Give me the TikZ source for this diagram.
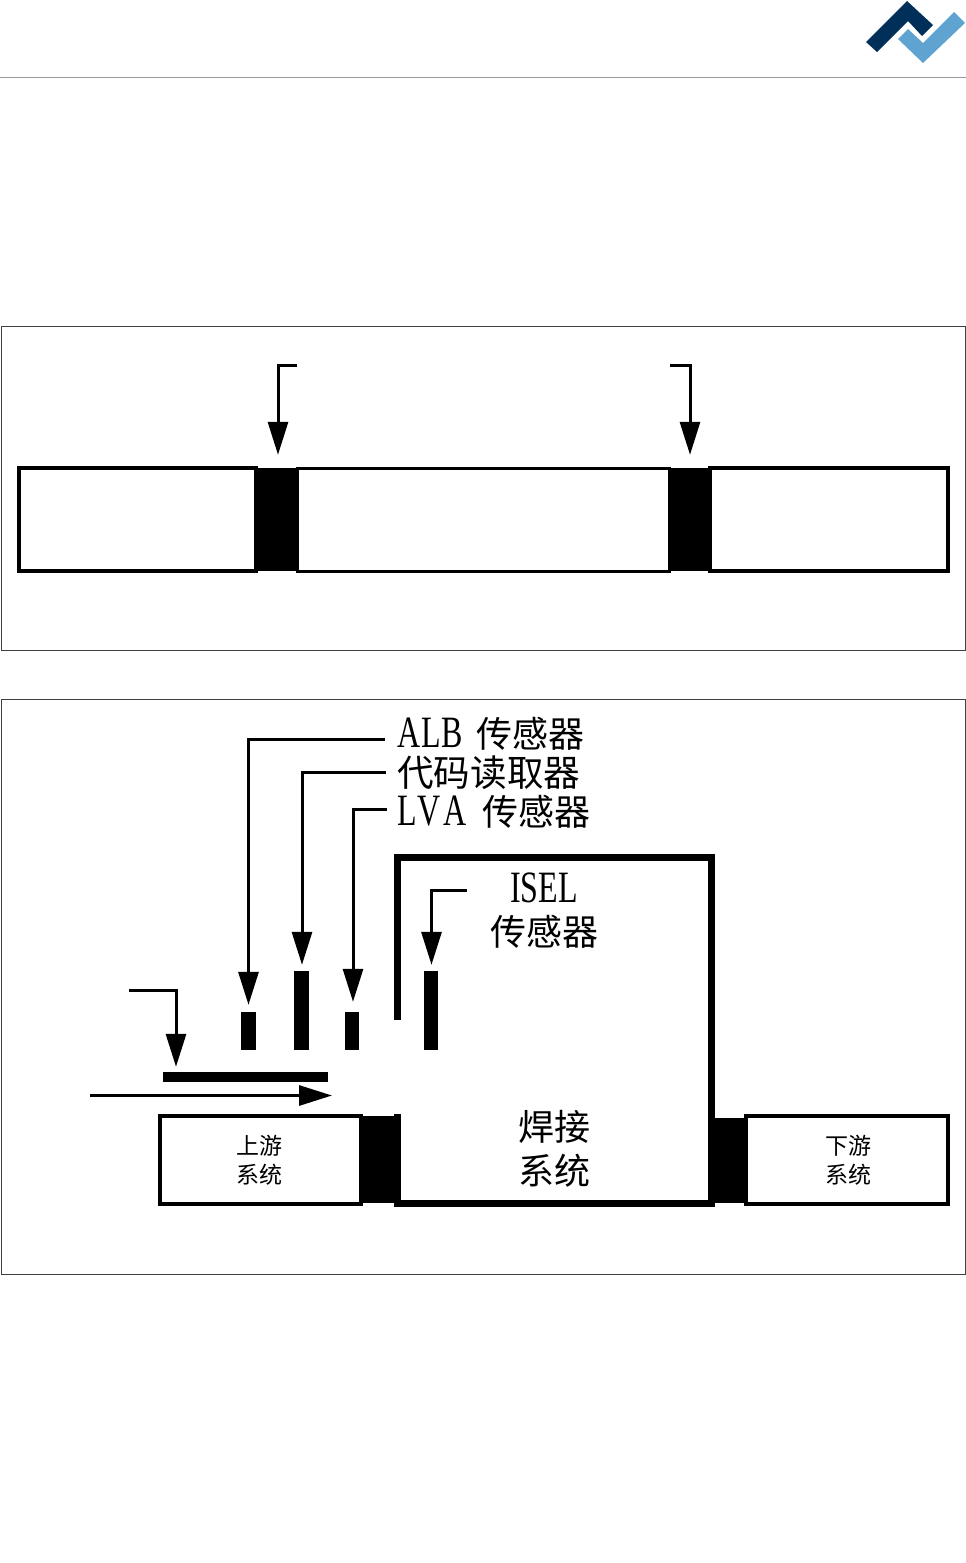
\documentclass[tikz,border=0pt]{standalone}
\usepackage{fontspec}
\usepackage{graphicx}
\setmainfont{Liberation Serif}
\newfontfamily\cjk{Noto Sans CJK SC}
\usetikzlibrary{arrows.meta}
\newcommand{\tallword}[1]{\scalebox{1}[1.4]{\rmfamily\fontsize{32}{32}\selectfont #1}}
\begin{document}
\begin{tikzpicture}[x=1pt,y=-1pt,framebox/.style={draw=black!75,line width=0.8pt},rulerline/.style={draw=black!40,line width=0.8pt},pointer/.style={draw=black,line width=3pt,-{Triangle[length=33pt,width=20pt]}},stripbox/.style={draw=black,line width=4pt,fill=white,inner sep=0pt},gapblock/.style={fill=black,inner sep=0pt},sensorbar/.style={fill=black,inner sep=0pt,minimum width=15pt},bigtext/.style={font=\cjk\fontsize{36}{36}\selectfont,inner sep=0pt},smalltext/.style={font=\cjk\fontsize{23}{23}\selectfont,inner sep=0pt}]
\useasboundingbox (0,0) rectangle (966,1563);
\fill[white] (0,0) rectangle (966,1563);
\draw[rulerline] (0,77) -- (966,77); \draw[rulerline] (0,1563) -- (966,1563);
\fill[fill={rgb,255:red,0;green,47;blue,90}] (866,42) -- (907,1) -- (933,25) -- (922,36) -- (908,21) -- (877,52) -- cycle;
\fill[fill={rgb,255:red,95;green,164;blue,208}] (898,39) -- (908,29) -- (923,43) -- (954,12) -- (965,23) -- (923,63) -- cycle;
\draw[framebox] (1,326) rectangle (965,650);
\draw[framebox] (1,699) rectangle (965,1274);
\begin{scope}
\node[stripbox,minimum width=237pt,minimum height=103pt] (leftstrip) at (137.5,519.5) {};
\node[stripbox,minimum width=238pt,minimum height=103pt] (rightstrip) at (829,519.5) {};
\node[stripbox,line width=3pt,minimum width=372pt,minimum height=103pt] (midstrip) at (483,519.5) {};
\node[gapblock,minimum width=41pt,minimum height=103pt] (leftgap) at (277,519.5) {};
\node[gapblock,minimum width=41pt,minimum height=103pt] (rightgap) at (690,519.5) {};
\coordinate (leftstart) at (297,365.5); \coordinate (rightstart) at (670,365.5);
\draw[pointer] (leftstart) -| ([xshift=1pt,yshift=13pt]leftgap.north);
\draw[pointer] (rightstart) -| ([yshift=13pt]rightgap.north);
\end{scope}
\begin{scope}
\node[sensorbar,minimum height=38pt] (albsensor) at (248.5,1031) {};
\node[sensorbar,minimum height=79pt] (codesensor) at (301.5,1010.5) {};
\node[sensorbar,minimum height=38pt,minimum width=14pt] (lvasensor) at (352,1031) {};
\node[sensorbar,minimum height=79pt,minimum width=14pt] (iselsensor) at (431,1010.5) {};
\node[gapblock,minimum width=165pt,minimum height=10pt] (boardbar) at (245.5,1077) {};
\node[stripbox,minimum width=201pt,minimum height=88pt] (upbox) at (260.5,1160) {};
\node[stripbox,minimum width=202pt,minimum height=88pt] (downbox) at (847,1160) {};
\node[gapblock,minimum width=34pt,minimum height=87pt] (upgap) at (378,1159.5) {};
\node[gapblock,minimum width=33pt,minimum height=85pt] (downgap) at (730,1160.5) {};
\draw[line width=7pt,line cap=butt,miter limit=10] (397,1020) -- (397,857.5) -- (711,857.5) -- (711,1203) -- (397,1203) -- (397,1114);
\node[bigtext,anchor=base west] (albtext) at (397,747) {\tallword{A\kern1pt L\kern1pt B}\hspace{13pt}{\cjk 传感器}};
\node[bigtext,anchor=base west,font=\cjk\fontsize{36.6}{36.6}\selectfont] (codetext) at (397,786) {代码读取器};
\node[bigtext,anchor=base west] (lvatext) at (397,825) {\tallword{L\kern1pt V\kern3pt A}\hspace{16pt}{\cjk 传感器}};
\node[bigtext,anchor=base] (iseltext) at (544,902) {\tallword{ISEL}};
\node[bigtext] (iselcjk) at (544,932) {传感器};
\node[bigtext] (weldtop) at (554,1127) {焊接};
\node[bigtext] (weldlow) at (554,1171) {系统};
\node[smalltext] (uptop) at (259,1146) {上游};
\node[smalltext] (uplow) at (259,1175) {系统};
\node[smalltext] (downtop) at (848,1146) {下游};
\node[smalltext] (downlow) at (848,1175) {系统};
\coordinate (albstart) at (385,739.5); \coordinate (codestart) at (386,772.5); \coordinate (lvastart) at (387,809.5); \coordinate (iselstart) at (467,890.5); \coordinate (boardstart) at (129,990.5); \coordinate (flowstart) at (90,1095.5); \coordinate (flowend) at (332,1095.5);
\draw[pointer] (albstart) -| ([yshift=7pt]albsensor.north);
\draw[pointer] (codestart) -| ([xshift=.5pt,yshift=6pt]codesensor.north);
\draw[pointer] (lvastart) -| ([xshift=1pt,yshift=10pt]lvasensor.north);
\draw[pointer] (iselstart) -| ([xshift=.5pt,yshift=6pt]iselsensor.north);
\draw[pointer] (boardstart) -| ([xshift=-69.5pt,yshift=5pt]boardbar.north);
\draw[pointer] (flowstart) -- (flowend);
\end{scope}
\end{tikzpicture}
\end{document}
